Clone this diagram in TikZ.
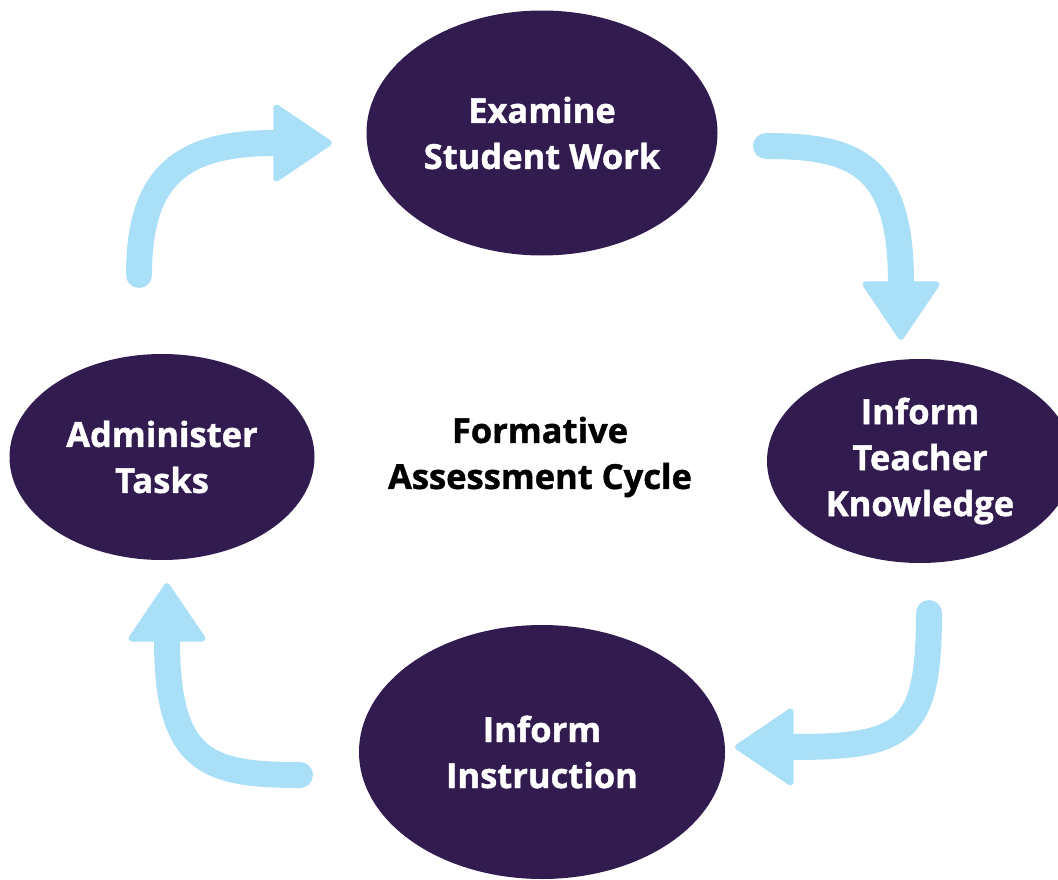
\documentclass[tikz,border=0pt]{standalone}
\usepackage{fontspec}
\setsansfont{Open Sans}[BoldFeatures={FakeBold=1.2}]
\usetikzlibrary{shapes.geometric,arrows.meta}
\definecolor{stagepurple}{HTML}{321B4F}
\definecolor{cycleblue}{HTML}{A9DFF7}
\tikzset{
  stage/.style={ellipse, fill=stagepurple, text=white, inner sep=0pt,
    align=center, font=\sffamily\bfseries\fontsize{34.5}{46}\selectfont},
  cyclearrow/.style={draw=cycleblue, line width=26pt, line cap=round,
    -{Triangle[length=61pt,width=81pt,line width=6pt,round]}}
}
\begin{document}
\begin{tikzpicture}[x=1pt,y=-1pt]
      \useasboundingbox (0,0) rectangle (1058,880);
      \draw
        (542,133) node[stage, minimum width=351pt, minimum height=245pt] (examine){Examine\\Student Work}
        (920,461) node[stage, minimum width=306pt, minimum height=204pt] (teacher){Inform\\Teacher\\Knowledge}
        (542,752) node[stage, minimum width=366pt, minimum height=254pt] (instruction){Inform\\Instruction}
        (162,457) node[stage, minimum width=305pt, minimum height=206pt] (administer){Administer\\Tasks}
        (540,457) node[align=center, font=\sffamily\bfseries\fontsize{34.5}{46}\selectfont] (cycle){Formative\\Assessment Cycle};
      \draw
        (139,275) coordinate (a1s)
        (332,143) coordinate (a1e)
        (766,146) coordinate (a2s)
        (901,340) coordinate (a2e)
        (929,613) coordinate (a3s)
        (735,747) coordinate (a3e)
        (300,775) coordinate (a4s)
        (167,583) coordinate (a4e);
      \begin{scope}[cyclearrow]
        \draw (a1s) to[out=90, in=180, out distance=100pt, in distance=150pt] (a1e);
        \draw (a2s) to[out=0, in=90, out distance=90pt, in distance=175pt] (a2e);
        \draw (a3s) to[out=-90, in=0, out distance=120pt, in distance=170pt] (a3e);
        \draw (a4s) to[out=180, in=-90, out distance=92pt, in distance=180pt] (a4e);
      \end{scope}
    \end{tikzpicture}
\end{document}
